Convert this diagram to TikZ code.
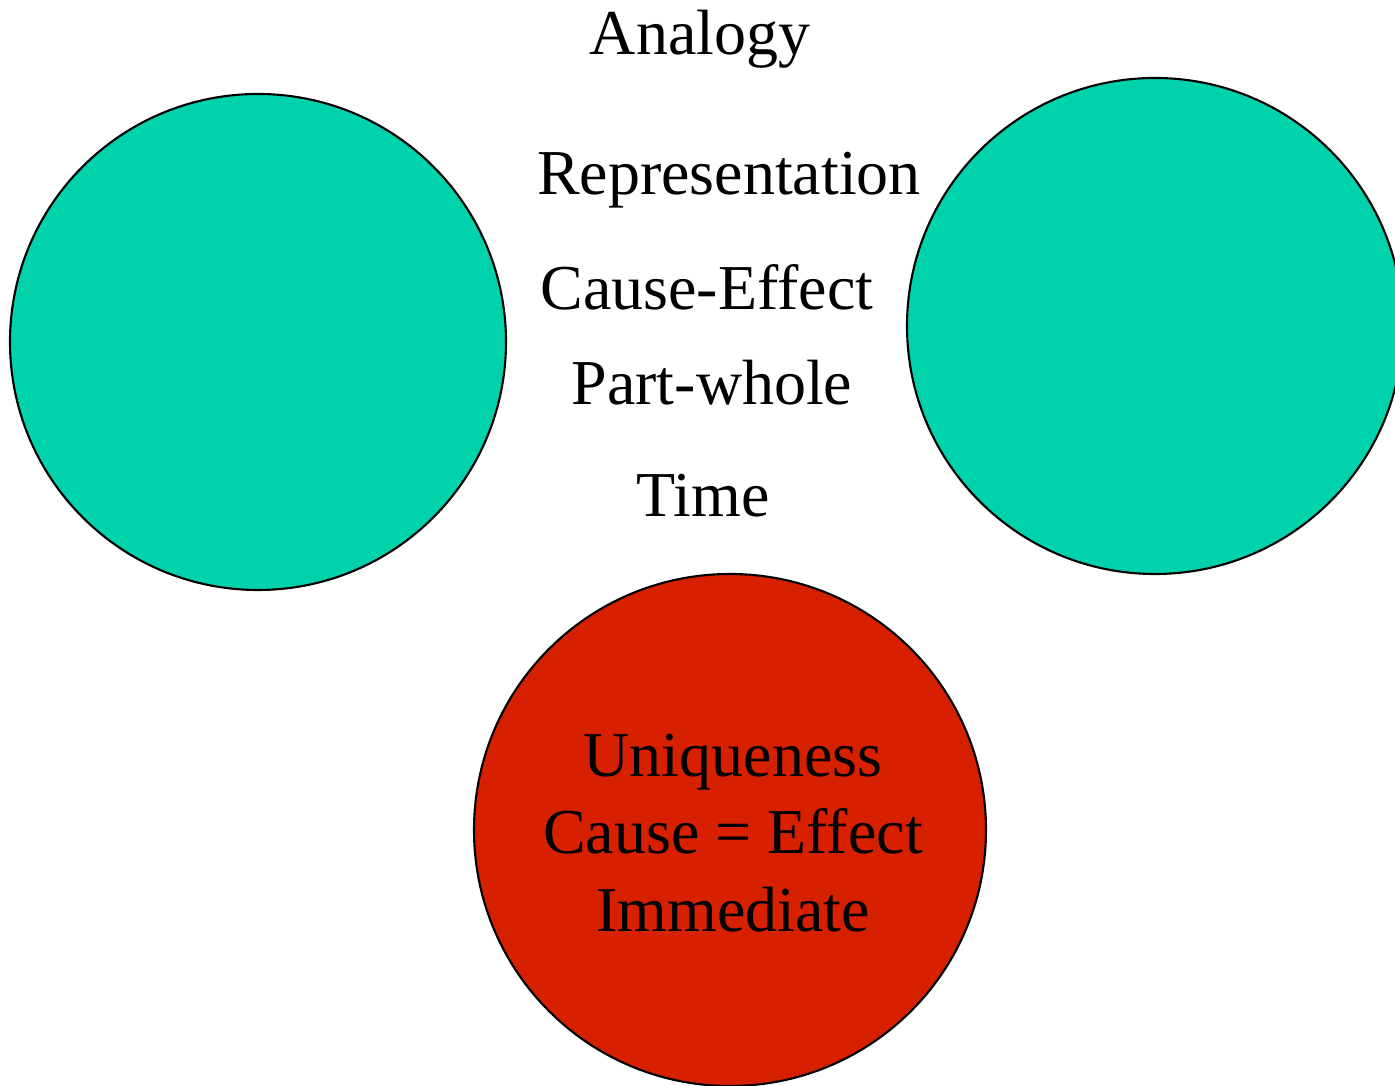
\documentclass[tikz,border=0pt]{standalone}
\usepackage{fontspec}
\setmainfont{Liberation Serif}
\usepackage{xcolor}
\usetikzlibrary{positioning}
\definecolor{setteal}{RGB}{0,210,172}
\definecolor{setred}{RGB}{214,32,0}

\begin{document}
\begin{tikzpicture}[
  setcircle/.style={draw, circle, line width=0.6pt, inner sep=0pt, minimum size=4.96cm},
  term/.style={font=\fontsize{18.2}{22}\selectfont, anchor=base, inner sep=0pt}]
\useasboundingbox (0,0) rectangle (13.95,10.86);
\node[setcircle, fill=setteal] (left) at (2.58,7.44) {};
\node[setcircle, fill=setteal] (right) at (11.55,7.60) {};
\node[setcircle, fill=setred, minimum size=5.12cm] (unique) at (7.30,2.56) {};
\node[align=center, font=\fontsize{18.2}{22}\selectfont, inner sep=0pt]
  (uniquetext) at (7.33,2.53) {Uniqueness\\Cause = Effect\\Immediate};
\node[term] (analogy) at (7.00,10.31) {Analogy};
\node[term] (repr) at (7.29,8.91) {Representation};
\node[term] (cause) at (7.07,7.76) {Cause-Effect};
\node[term] (part) at (7.12,6.81) {Part-whole};
\node[term] (time) at (7.03,5.69) {Time};
\end{tikzpicture}
\end{document}
